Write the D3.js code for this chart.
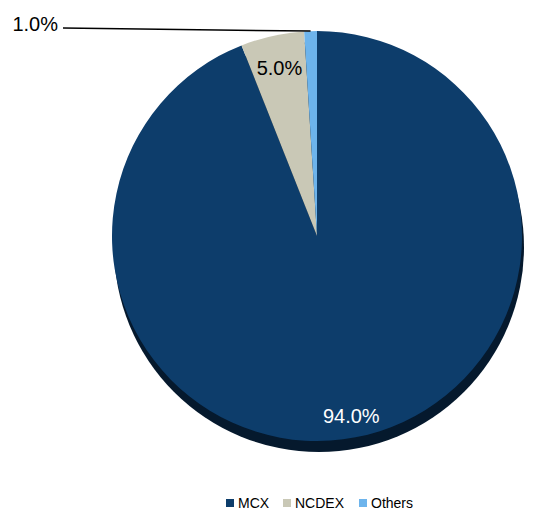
<!DOCTYPE html>
<html>
<head>
<meta charset="utf-8">
<script src="https://cdn.jsdelivr.net/npm/d3@7"></script>
<style>
  body { margin: 0; background: #fff; }
  svg { display: block; font-family: "Liberation Sans", Arial, sans-serif; }
</style>
</head>
<body>
<svg id="chart"></svg>
<script>
const labels = ['MCX', 'NCDEX', 'Others'];
const shares = [94.0, 5.0, 1.0];
const colors = ['#0d3d6b', '#c9c8b6', '#6db4ec'];

const width = 536, height = 513;
const cx = 317, cy = 236, radius = 205;

const svg = d3.select('#chart')
  .attr('width', width)
  .attr('height', height)
  .attr('viewBox', [0, 0, width, height]);

const data = labels.map((l, i) => ({ label: l, value: shares[i], color: colors[i] }));

const pie = d3.pie().value(d => d.value).sort(null);
const arcs = pie(data);
const arc = d3.arc().innerRadius(0).outerRadius(radius);

// shadow under the pie
svg.append('circle')
  .attr('cx', cx + 2).attr('cy', cy + 11).attr('r', radius)
  .style('fill', '#05192d');

const g = svg.append('g').attr('transform', `translate(${cx},${cy})`);

g.selectAll('path')
  .data(arcs)
  .join('path')
  .attr('d', arc)
  .style('fill', d => d.data.color);

// labels
const labelRadius = [183, 172, null];
arcs.forEach((a, i) => {
  const txt = a.data.value.toFixed(1) + '%';
  if (labelRadius[i]) {
    const la = d3.arc().innerRadius(labelRadius[i]).outerRadius(labelRadius[i]);
    const [lx, ly] = la.centroid(a);
    g.append('text')
      .attr('x', lx).attr('y', ly)
      .attr('text-anchor', 'middle')
      .attr('dominant-baseline', 'central')
      .style('font-size', '20px')
      .style('fill', i === 0 ? '#ffffff' : '#000000')
      .text(txt);
  } else {
    const oa = d3.arc().innerRadius(radius).outerRadius(radius);
    const [ex, ey] = oa.centroid(a);
    g.append('line')
      .attr('x1', 63 - cx).attr('y1', 28 - cy)
      .attr('x2', ex).attr('y2', ey)
      .style('stroke', '#000')
      .style('stroke-width', 1.5);
    g.append('text')
      .attr('x', 58 - cx).attr('y', 24 - cy)
      .attr('text-anchor', 'end')
      .attr('dominant-baseline', 'central')
      .style('font-size', '20px')
      .style('fill', '#000')
      .text(txt);
  }
});

// legend
const legendX = [226, 283, 359];
const legend = svg.append('g');
data.forEach((d, i) => {
  legend.append('rect')
    .attr('x', legendX[i]).attr('y', 499)
    .attr('width', 8).attr('height', 8)
    .style('fill', d.color);
  legend.append('text')
    .attr('x', legendX[i] + 12).attr('y', 503)
    .attr('dominant-baseline', 'central')
    .style('font-size', '14px')
    .style('fill', '#000')
    .text(d.label);
});
</script>
</body>
</html>
